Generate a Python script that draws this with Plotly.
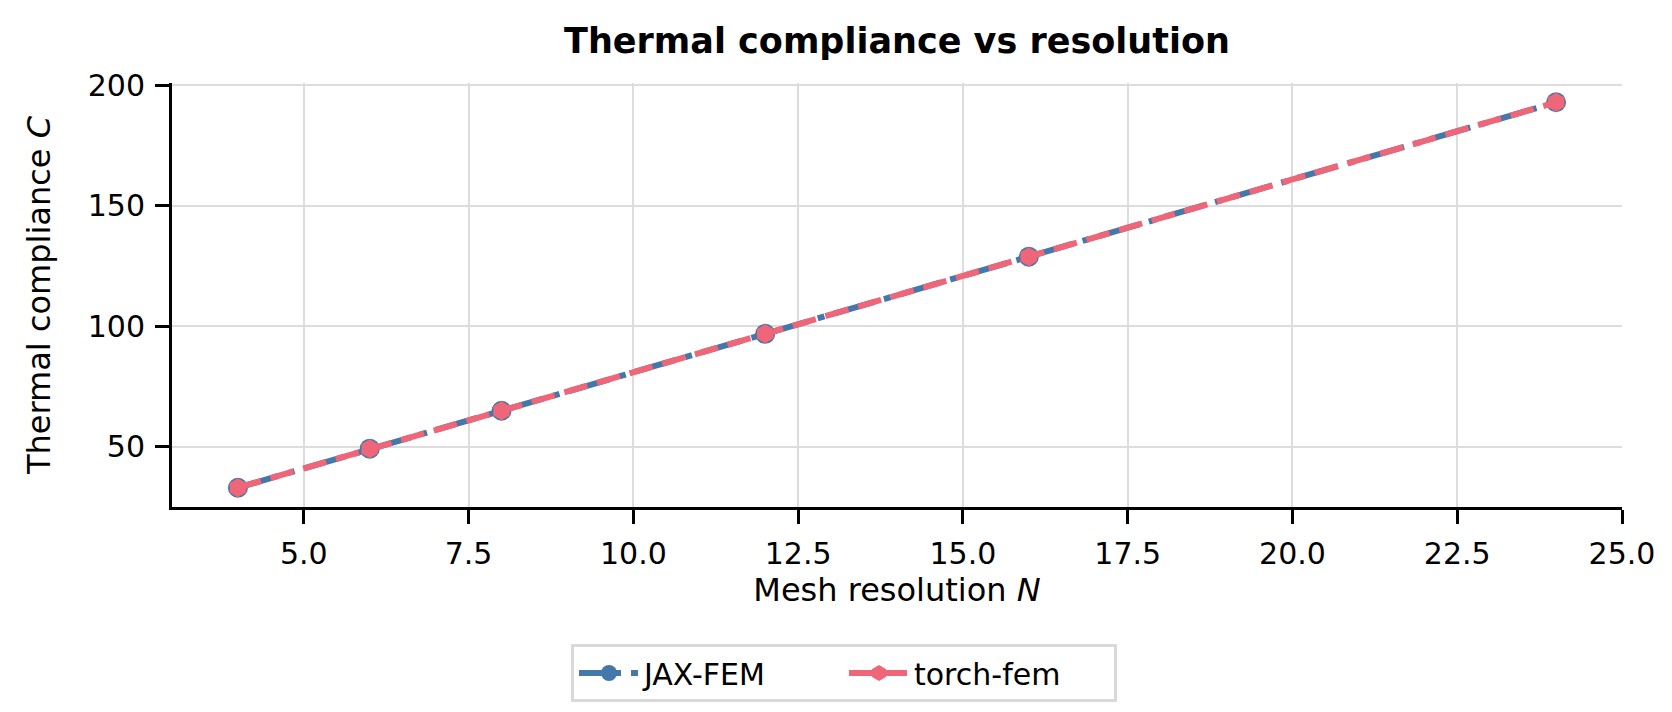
import plotly.graph_objects as go

# mesh resolution N and thermal compliance C
resolution = [4, 6, 8, 12, 16, 24]
jax_fem = [33.1, 49.3, 65.0, 96.9, 128.9, 192.9]
torch_fem = [33.1, 49.3, 65.0, 96.9, 128.9, 192.9]

BLUE = '#4477AA'
PINK = '#EE6677'
FONT = 'DejaVu Sans'

fig = go.Figure()

fig.add_trace(go.Scatter(
    x=resolution, y=jax_fem, name='JAX-FEM', mode='lines+markers',
    line=dict(color=BLUE, width=6, dash='42px,10px,7px,10px'),
    marker=dict(symbol='circle', size=20, color=BLUE),
))
fig.add_trace(go.Scatter(
    x=resolution, y=torch_fem, name='torch-fem', mode='lines+markers',
    line=dict(color=PINK, width=6, dash='24px,10px'),
    marker=dict(symbol='hexagon', size=19, color=PINK),
))

fig.update_layout(
    width=1672, height=712,
    margin=dict(l=164, r=58, t=75, b=213),
    plot_bgcolor='white', paper_bgcolor='white',
    font=dict(family=FONT, size=30, color='black'),
    title=dict(text='<b>Thermal compliance vs resolution</b>',
               x=(164 + 1614) / 2 / 1672, xanchor='center',
               y=1 - 33 / 712, yanchor='middle',
               font=dict(family=FONT, size=35, color='black')),
    legend=dict(orientation='h', x=(836 - 164) / 1450, xanchor='center',
                y=-(636 - 499) / 424, yanchor='top',
                bordercolor='#d9d9d9', borderwidth=3,
                font=dict(family=FONT, size=30), itemwidth=60,
                entrywidth=195, entrywidthmode='pixels'),
    showlegend=True,
)

fig.update_xaxes(
    range=[3, 25], tick0=0, dtick=2.5, tickformat='.1f',
    showgrid=True, gridcolor='#dddddd', gridwidth=2, zeroline=False,
    showline=True, linecolor='black', linewidth=3,
    ticks='outside', ticklen=14, tickwidth=3, tickcolor='black',
    ticklabelstandoff=4,
    title=dict(text='Mesh resolution <i>N</i>', standoff=9,
               font=dict(family=FONT, size=32)),
)
fig.update_yaxes(
    range=[25.1, 200.9], tick0=0, dtick=50,
    showgrid=True, gridcolor='#dddddd', gridwidth=2, zeroline=False,
    showline=True, linecolor='black', linewidth=3,
    ticks='outside', ticklen=14, tickwidth=3, tickcolor='black',
    ticklabelstandoff=4,
    title=dict(text='Thermal compliance <i>C</i>', standoff=28,
               font=dict(family=FONT, size=32)),
)

fig.write_html('out.html')
